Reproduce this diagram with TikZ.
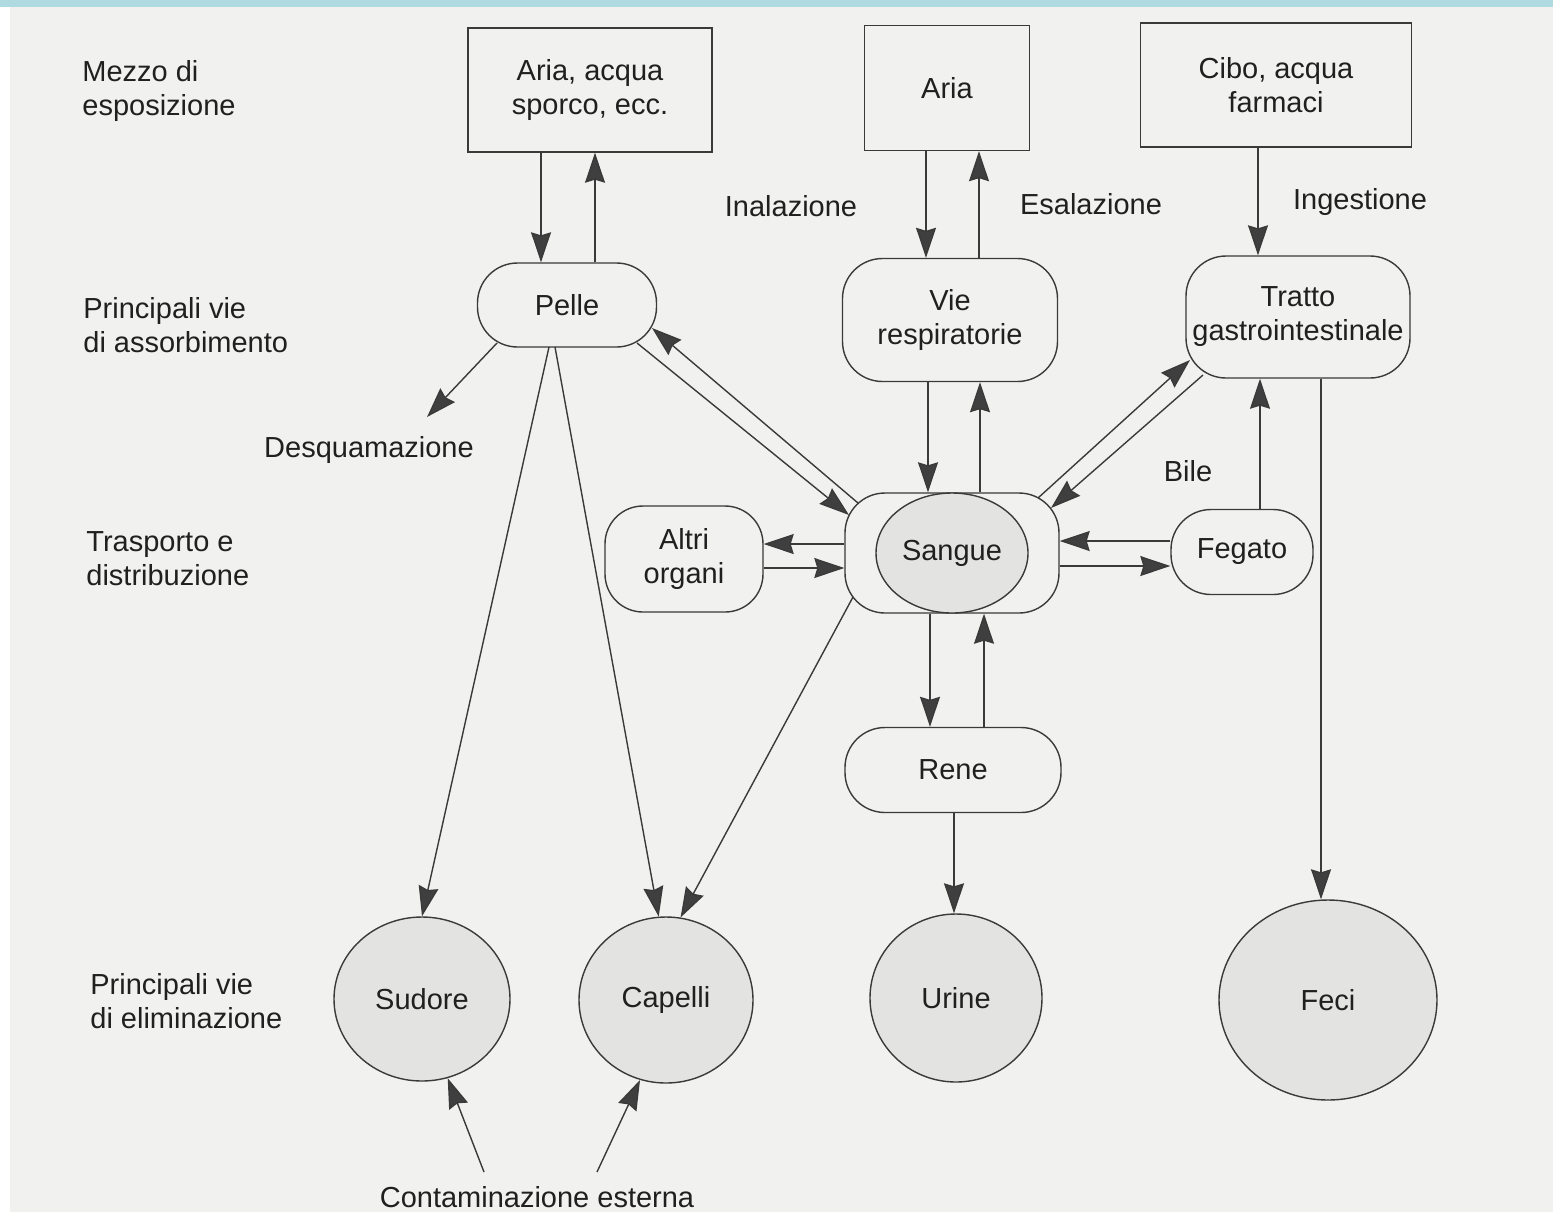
\documentclass[tikz,border=0pt]{standalone}
\usepackage{fontspec}
\setmainfont{Liberation Sans}
\usetikzlibrary{arrows.meta,shapes.geometric}
\definecolor{paper}{HTML}{F1F1EF}
\definecolor{band}{HTML}{AFDADF}
\definecolor{edge}{HTML}{3A3A3A}
\definecolor{ink}{HTML}{202020}
\definecolor{blobfill}{HTML}{E3E3E2}
\definecolor{tipfill}{HTML}{3F3F3F}
\begin{document}
\begin{tikzpicture}[x=0.5pt,y=-0.5pt,
  font=\fontsize{14.5pt}{17pt}\selectfont,
  every node/.style={text=ink},
  box/.style={draw=edge, line width=0.7pt, inner sep=0pt, align=center},
  rbox/.style={box, rounded corners=#1},
  blob/.style={ellipse, draw=edge, line width=0.7pt, fill=blobfill, inner sep=0pt},
  lab/.style={inner sep=0pt, align=left},
  arr/.style={draw=edge, line width=0.7pt,
    -{Stealth[length=15pt,width=10pt,inset=1.5pt,fill=tipfill]}}]

% page
\useasboundingbox (0,0) rectangle (1553,1212);
\fill[paper] (0,0) rectangle (1553,1212);
\fill[white] (0,7) rectangle (10,1212);
\fill[band] (0,0) rectangle (1553,7);

% helper columns and rows for parallel connectors
\coordinate (x541) at (541,0);
\coordinate (x595) at (595,0);
\coordinate (x926) at (926,0);
\coordinate (x979) at (979,0);
\coordinate (x1258) at (1258,0);
\coordinate (x928) at (928,0);
\coordinate (x980) at (980,0);
\coordinate (x930) at (930,0);
\coordinate (x984) at (984,0);
\coordinate (x954) at (954,0);
\coordinate (x1260) at (1260,0);
\coordinate (x1321) at (1321,0);
\coordinate (y541) at (0,541);
\coordinate (y544) at (0,544);
\coordinate (y566) at (0,566);
\coordinate (y568) at (0,568);

% row labels
\node[lab, anchor=west] (r1) at (82,91) {Mezzo di\\esposizione};
\node[lab, anchor=west] (r2) at (83,325) {Principali vie\\di assorbimento};
\node[lab, anchor=west] (r3) at (86,559) {Trasporto e\\distribuzione};
\node[lab, anchor=west] (r4) at (90,1001) {Principali vie\\di eliminazione};

% sources
\node[box, minimum width=122pt, minimum height=62pt] (aac) at (590,90) {Aria, acqua\\sporco, ecc.};
\node[box, minimum width=82.5pt, minimum height=62.5pt] (aria) at (947,88) {Aria};
\node[box, minimum width=135.5pt, minimum height=62pt] (cibo) at (1276,85) {Cibo, acqua\\farmaci};

% absorption
\node[rbox=20pt, minimum width=89.5pt, minimum height=42pt] (pelle) at (567,305) {Pelle};
\node[rbox=20pt, minimum width=107.5pt, minimum height=61.5pt] (vie) at (950,320) {Vie\\respiratorie};
\node[rbox=20pt, minimum width=112pt, minimum height=61pt] (tratto) at (1298,317) {Tratto\\gastrointestinale};

% transport
\node[rbox=20pt, minimum width=107pt, minimum height=60pt] (sangue) at (952,553) {};
\node[blob, minimum width=76pt, minimum height=60pt] (sangueIn) at (sangue.center) {Sangue};
\node[rbox=19pt, minimum width=79pt, minimum height=53pt] (altri) at (684,559) {Altri\\organi};
\node[rbox=20pt, minimum width=71pt, minimum height=42.5pt] (fegato) at (1242,552) {Fegato};
\node[rbox=20pt, minimum width=108pt, minimum height=42.5pt] (rene) at (953,770) {Rene};

% elimination
\node[blob, minimum width=88pt, minimum height=82pt] (sudore) at (422,999) {Sudore};
\node[blob, minimum width=87pt, minimum height=83pt] (capelli) at (666,1000) {Capelli};
\node[blob, minimum width=86pt, minimum height=84pt] (urine) at (956,998) {Urine};
\node[blob, minimum width=109pt, minimum height=100pt] (feci) at (1328,1000) {Feci};

% edge labels
\node[lab] (desq) at (369,450) {Desquamazione};
\node[lab] (inal) at (791,206) {Inalazione};
\node[lab] (esal) at (1091,204) {Esalazione};
\node[lab] (inge) at (1360,202) {Ingestione};
\node[lab] (bile) at (1188,471) {Bile};
\node[lab] (contam) at (537,1197) {Contaminazione esterna};

% vertical exchanges
\draw[arr] (aac.south -| x541) -- (pelle.north -| x541);
\draw[arr] (pelle.north -| x595) -- (aac.south -| x595);
\draw[arr] (aria.south -| x926) -- (vie.north -| x926);
\draw[arr] (vie.north -| x979) -- (aria.south -| x979);
\draw[arr] (cibo.south -| x1258) -- (tratto.north -| x1258);
\draw[arr] (vie.south -| x928) -- (sangue.north -| x928);
\draw[arr] (sangue.north -| x980) -- (vie.south -| x980);
\draw[arr] (sangue.south -| x930) -- (rene.north -| x930);
\draw[arr] (rene.north -| x984) -- (sangue.south -| x984);
\draw[arr] (rene.south -| x954) -- (urine.north -| x954);
\draw[arr] (fegato.north -| x1260) -- (tratto.south -| x1260);
\draw[arr] (tratto.south -| x1321) -- (feci.north -| x1321);

% horizontal exchanges around the blood
\draw[arr] (sangue.west |- y544) -- (altri.east |- y544);
\draw[arr] (altri.east |- y568) -- (sangue.west |- y568);
\draw[arr] (fegato.west |- y541) -- (sangue.east |- y541);
\draw[arr] (sangue.east |- y566) -- (fegato.west |- y566);

% skin
\draw[arr] ([shift={(-70,38)}]pelle.center) -- ([shift={(58,-33)}]desq.center);
\draw[arr] ([shift={(-18,42)}]pelle.center) -- (sudore.north);
\draw[arr] ([shift={(-12,42)}]pelle.center) -- (capelli.95);
\draw[arr] ([shift={(70,38)}]pelle.center) -- ([shift={(-103,-38)}]sangue.center);
\draw[arr] ([shift={(-94,-50)}]sangue.center) -- ([shift={(85,23)}]pelle.center);

% blood to hair, blood and gut
\draw[arr] ([shift={(-99,44)}]sangue.center) -- (capelli.80);
\draw[arr] ([shift={(86,-55)}]sangue.center) -- ([shift={(-108,43)}]tratto.center);
\draw[arr] ([shift={(-95,58)}]tratto.center) -- ([shift={(99,-45)}]sangue.center);

% external contamination
\draw[arr] ([shift={(-53,-25)}]contam.center) -- (sudore.-72);
\draw[arr] ([shift={(60,-25)}]contam.center) -- (capelli.-108);
\end{tikzpicture}
\end{document}
